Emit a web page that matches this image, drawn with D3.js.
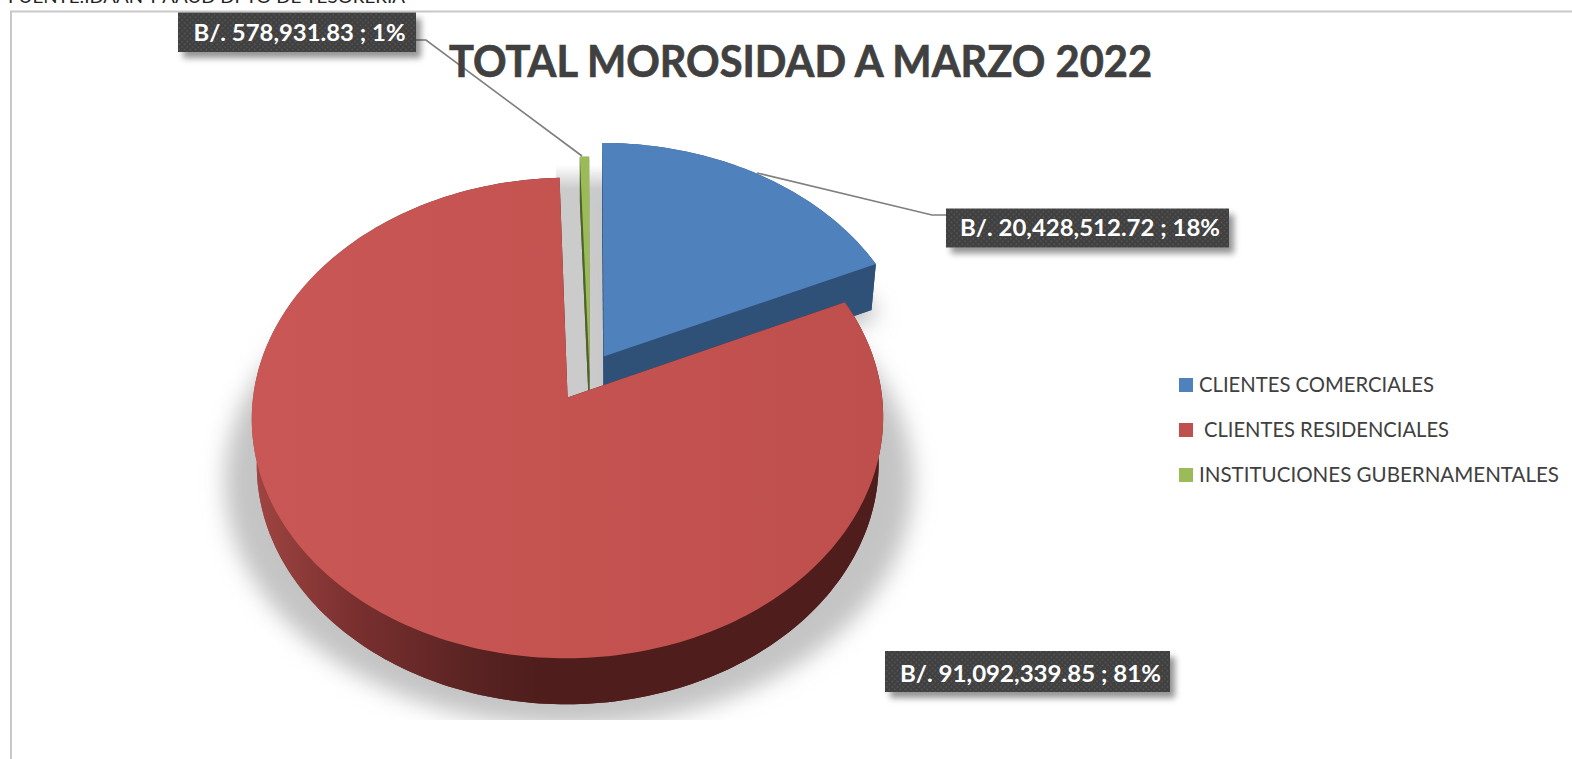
<!DOCTYPE html>
<html><head><meta charset="utf-8">
<script src="https://cdnjs.cloudflare.com/ajax/libs/d3/7.8.5/d3.min.js"></script>
<style>html,body{margin:0;padding:0;background:#fff;overflow:hidden}svg{display:block}text{font-family:Lato,"Open Sans",sans-serif}</style>
</head><body><div id="chart"></div>
<script>
const titleText = "TOTAL MOROSIDAD A MARZO 2022";
const sourceText = "FUENTE:IDAAN Y AAUD  DPTO DE TESORERIA";
const categories = ["CLIENTES COMERCIALES", " CLIENTES RESIDENCIALES", "INSTITUCIONES GUBERNAMENTALES"];
const values = [20428512.72, 91092339.85, 578931.83];
const topColors = ["#4f81bd", "url(#redTop)", "#9bbb59"];
const sideColors = ["#2f5178", "url(#redSide)", "#4f6228"];
const swatchColors = ["#4f81bd", "#c0504d", "#9bbb59"];

const W = 1572, H = 759;
const svg = d3.select("#chart").append("svg").attr("width", W).attr("height", H);
const defs = svg.append("defs");

function gradient(id, x1, x2, stops) {
  const g = defs.append("linearGradient").attr("id", id).attr("gradientUnits", "userSpaceOnUse")
    .attr("x1", x1).attr("x2", x2).attr("y1", 0).attr("y2", 0);
  stops.forEach(s => g.append("stop").attr("offset", s[0]).attr("stop-color", s[1]));
}
gradient("redTop", 250, 885, [[0, "#c95755"], [1, "#bf4f4c"]]);
gradient("redSide", 252, 540, [[0, "#a04542"], [0.35, "#7a302f"], [0.75, "#5a2423"], [1, "#4e1d1c"]]);
const gapFade = defs.append("linearGradient").attr("id", "gapFade").attr("x1", 0).attr("x2", 0).attr("y1", 0).attr("y2", 1);
gapFade.append("stop").attr("offset", 0).attr("stop-color", "#cbcbcb").attr("stop-opacity", 0);
gapFade.append("stop").attr("offset", 0.1).attr("stop-color", "#cbcbcb").attr("stop-opacity", 1);
gapFade.append("stop").attr("offset", 1).attr("stop-color", "#cbcbcb").attr("stop-opacity", 1);
defs.append("filter").attr("id", "blur").attr("x", "-20%").attr("y", "-20%").attr("width", "140%").attr("height", "140%")
  .append("feGaussianBlur").attr("stdDeviation", 11);
const bf = defs.append("filter").attr("id", "boxShadow").attr("x", "-10%").attr("y", "-30%").attr("width", "120%").attr("height", "170%");
bf.append("feDropShadow").attr("dx", 5).attr("dy", 6).attr("stdDeviation", 3).attr("flood-color", "#000").attr("flood-opacity", 0.42);
const pat = defs.append("pattern").attr("id", "dots").attr("patternUnits", "userSpaceOnUse").attr("width", 5.4).attr("height", 5.4);
pat.append("rect").attr("width", 5.4).attr("height", 5.4).attr("fill", "#404040");
pat.append("rect").attr("x", 0.4).attr("y", 0.4).attr("width", 1.5).attr("height", 1.5).attr("fill", "#5a5a5a");
pat.append("rect").attr("x", 3.1).attr("y", 3.1).attr("width", 1.5).attr("height", 1.5).attr("fill", "#575757");
defs.append("clipPath").attr("id", "shadowClip").append("rect").attr("x", 180).attr("y", 100).attr("width", 800).attr("height", 620);

// perspective projection of the pie plane onto the screen
const project = p => ([u, v]) => {
  const w = 1 - p.k * v;
  return [p.x0 + p.rx * u / w, p.y0 + p.ry * v / w];
};
const topPlane = {x0: 584.7, y0: 376.7, rx: 312.2, ry: 235, k: 0.085};
const basePlane = {x0: 584.7, y0: 422.7, rx: 307.5, ry: 235, k: 0.085};
const shadowPlane = {x0: 569, y0: 472, rx: 344, ry: 244, k: 0.04};
const offsets = [[0.0615, -0.0866], [-0.0544, 0.0874], [0.0155, -0.017]];

const pie = d3.pie().sort(null).value(d => d).startAngle(0).endAngle(2 * Math.PI);
const slices = pie(values);
const total = d3.sum(values);
const line = d3.line();

function ring(a0, a1, off) {
  const n = Math.max(2, Math.ceil((a1 - a0) / 0.02));
  return d3.range(n + 1).map(i => {
    const a = a0 + (a1 - a0) * i / n;
    return [Math.sin(a) + off[0], -Math.cos(a) + off[1]];
  });
}
const wedge = (s, off, plane) =>
  line([[off[0], off[1]], ...ring(s.startAngle, s.endAngle, off)].map(project(plane))) + "Z";

// frame and source note
svg.append("rect").attr("x", 11).attr("y", 11.5).attr("width", W + 20).attr("height", H + 20)
  .attr("fill", "#fff").attr("stroke", "#c8c8c8").attr("stroke-width", 2);
svg.append("text").attr("x", 8).attr("y", 3).attr("font-size", 17).attr("fill", "#222")
  .attr("textLength", 397).attr("lengthAdjust", "spacingAndGlyphs").text(sourceText);

// soft shadows
const sh = svg.append("g").attr("clip-path", "url(#shadowClip)").append("g").attr("filter", "url(#blur)");
sh.append("path").attr("d", line(ring(0, 2 * Math.PI, [0, 0]).map(project(shadowPlane))) + "Z").attr("fill", "#c4c4c4");
svg.append("rect").attr("x", 556).attr("y", 165).attr("width", 50).attr("height", 240).attr("fill", "url(#gapFade)");
svg.append("g").attr("filter", "url(#blur)").append("path")
  .attr("d", wedge(slices[0], offsets[0], {...basePlane, x0: basePlane.x0 + 8, y0: basePlane.y0 + 6})).attr("fill", "#bcbcbc");

// draw the blue slice, then green, then red in front
[0, 2, 1].forEach(i => {
  const s = slices[i], off = offsets[i];
  const g = svg.append("g");
  const t = ring(s.startAngle, s.endAngle, off);
  g.append("path").attr("d", wedge(s, off, basePlane)).attr("fill", sideColors[i]);
  g.append("path").attr("fill", sideColors[i])
    .attr("d", line([...t.map(project(topPlane)), ...t.slice().reverse().map(project(basePlane))]) + "Z");
  // radial cut walls
  [[off, t[0]], [off, t[t.length - 1]]].forEach(e => {
    g.append("path").attr("fill", sideColors[i])
      .attr("d", line([project(topPlane)(e[0]), project(topPlane)(e[1]), project(basePlane)(e[1]), project(basePlane)(e[0])]) + "Z");
  });
  g.append("path").attr("d", wedge(s, off, topPlane)).attr("fill", topColors[i]);
});

// leader lines
const leader = pts => svg.append("path").attr("d", line(pts)).attr("fill", "none").attr("stroke", "#7f7f7f").attr("stroke-width", 1.7);
leader([[416, 40], [426, 40], [582, 156]]);
leader([[757, 173], [932, 215], [946, 215]]);

// title
svg.append("text").attr("x", 449).attr("y", 77).attr("font-size", 44).attr("font-weight", 700).attr("fill", "#404040")
  .attr("stroke", "#404040").attr("stroke-width", 0.7)
  .attr("textLength", 703).attr("lengthAdjust", "spacingAndGlyphs").text(titleText);

// data labels
const fmt = d3.format(",.2f"), pct = d3.format(".0%");
const labelText = i => `B/. ${fmt(values[i])} ; ${pct(values[i] / total)}`;
const boxes = [
  {i: 0, x: 946, y: 208.5, w: 283, h: 39, tx: 960, tw: 260, by: 236},
  {i: 1, x: 885, y: 651, w: 285, h: 41, tx: 900, tw: 261, by: 681.5},
  {i: 2, x: 178, y: 12.5, w: 238, h: 39.5, tx: 193.5, tw: 212, by: 41}
];
const lab = svg.selectAll("g.lab").data(boxes).join("g").attr("class", "lab");
lab.append("rect").attr("x", d => d.x).attr("y", d => d.y).attr("width", d => d.w).attr("height", d => d.h)
  .attr("fill", "url(#dots)").attr("filter", "url(#boxShadow)");
lab.append("text").attr("x", d => d.tx).attr("y", d => d.by).attr("font-size", 22.5).attr("font-weight", 700).attr("fill", "#fff")
  .attr("textLength", d => d.tw).attr("lengthAdjust", "spacingAndGlyphs")
  .text(d => labelText(d.i));

// legend
const legY = d3.scalePoint().domain(categories).range([378, 468]);
const legW = [235, 245, 360];
const leg = svg.selectAll("g.leg").data(categories).join("g").attr("class", "leg");
leg.append("rect").attr("x", 1179).attr("y", d => legY(d)).attr("width", 14).attr("height", 14)
  .attr("fill", (d, i) => swatchColors[i]);
leg.append("text").attr("x", (d, i) => i === 1 ? 1204 : 1199).attr("y", d => legY(d) + 14)
  .attr("font-size", 20.5).attr("fill", "#404040")
  .attr("textLength", (d, i) => legW[i]).attr("lengthAdjust", "spacingAndGlyphs")
  .text(d => d.trim());
</script></body></html>
